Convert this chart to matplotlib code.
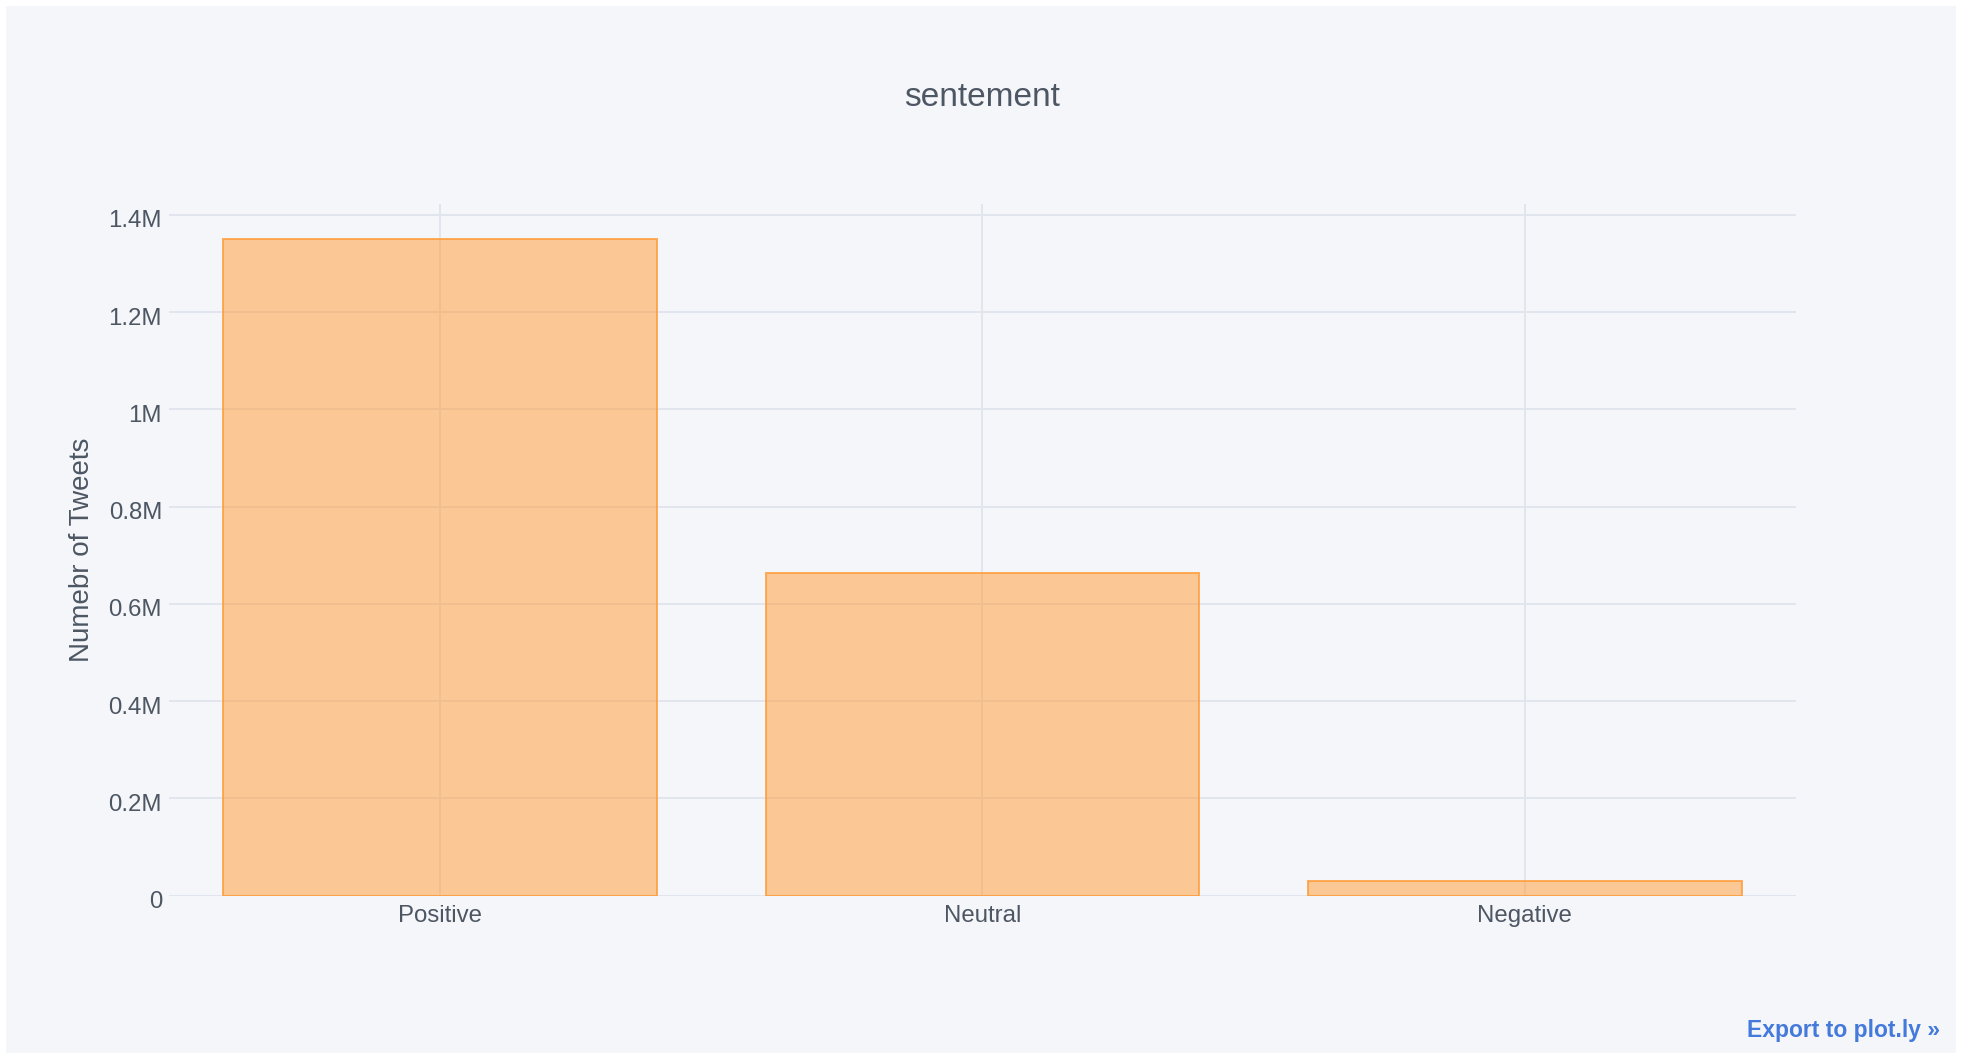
import matplotlib.pyplot as plt
from matplotlib.patches import Rectangle
from matplotlib.transforms import ScaledTranslation

# datos
categorias = ["Positive", "Neutral", "Negative"]
tweets = [1351000, 664000, 31000]
y_ticks = [0, 200000, 400000, 600000, 800000, 1000000, 1200000, 1400000]
y_labels = ["0", "0.2M", "0.4M", "0.6M", "0.8M", "1M", "1.2M", "1.4M"]

fondo = "#F5F6F9"
grid = "#E1E5ED"
texto = "#4D5663"

plt.rcParams["font.family"] = ["Liberation Sans", "DejaVu Sans"]

fig = plt.figure(figsize=(19.64, 10.62), dpi=100, facecolor="white")
W, H = 1964, 1062
fig.patches.append(Rectangle((6 / W, 1 - 1053 / H), (1956 - 6) / W, (1053 - 6) / H,
                             transform=fig.transFigure, facecolor=fondo,
                             edgecolor="none", zorder=-10))

ax = fig.add_axes([169 / W, 1 - 895.6 / H, (1796 - 169) / W, (895.6 - 204) / H])
ax.set_facecolor(fondo)

x = range(len(categorias))
ax.bar(x, tweets, width=0.8, color=(1.0, 0.6, 0.2, 0.5),
       edgecolor=(1.0, 0.6, 0.2, 0.8), linewidth=1.4, zorder=3)

ax.set_xlim(-0.5, 2.5)
ax.set_ylim(0, 1.4221e6)
ax.set_xticks(list(x))
ax.set_xticklabels(categorias)
ax.set_yticks(y_ticks)
ax.set_yticklabels(y_labels)

ax.grid(True, color=grid, linewidth=1.4, zorder=1)
ax.set_axisbelow(True)
for s in ax.spines.values():
    s.set_visible(False)
ax.tick_params(length=0, labelsize=17.3, labelcolor=texto)
ax.tick_params(axis="y", pad=5)
ax.tick_params(axis="x", pad=7)

# etiquetas del eje y un poco mas abajo, como en plotly
desplazar = ScaledTranslation(0, -0.04, fig.dpi_scale_trans)
for lab in ax.get_yticklabels():
    lab.set_transform(lab.get_transform() + desplazar)

ax.set_ylabel("Numebr of Tweets", fontsize=20, color=texto)
ax.yaxis.set_label_coords(-(169 - 95) / (1796 - 169), 0.5)

fig.text(982 / W, 1 - 97 / H, "sentement", fontsize=24, color=texto,
         ha="center", va="center")
fig.text(1940 / W, 1 - 1030 / H, "Export to plot.ly »", fontsize=16.5,
         color="#447ADB", fontweight="bold", ha="right", va="center")

fig.savefig("out.png", dpi=100, facecolor="white")
